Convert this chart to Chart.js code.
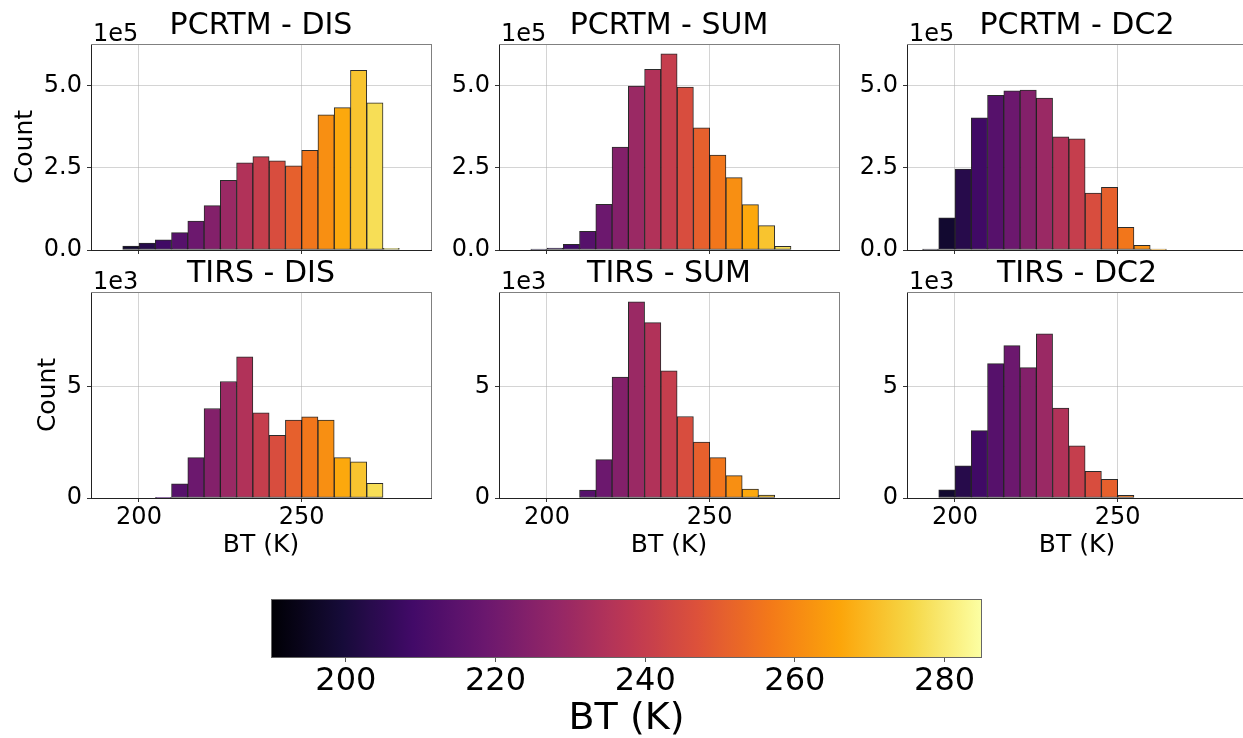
<!DOCTYPE html>
<html>
<head>
<meta charset="utf-8">
<script src="https://cdn.jsdelivr.net/npm/chart.js@4.4.1/dist/chart.umd.min.js"></script>
<style>
  html, body { margin: 0; padding: 0; background: #fff; }
  body { width: 1243px; height: 738px; position: relative; overflow: hidden; }
  canvas { position: absolute; }
</style>
</head>
<body>
<canvas id="p0"></canvas>
<canvas id="p1"></canvas>
<canvas id="p2"></canvas>
<canvas id="p3"></canvas>
<canvas id="p4"></canvas>
<canvas id="p5"></canvas>
<canvas id="cbar"></canvas>
<script>
// bin centres (K) and counts
var pcrtmDisBins = [197.5, 202.5, 207.5, 212.5, 217.5, 222.5, 227.5, 232.5, 237.5, 242.5, 247.5, 252.5, 257.5, 262.5, 267.5, 272.5, 277.5];
var pcrtmDis = [12000, 21000, 31000, 53000, 88000, 135000, 212000, 265000, 284000, 271000, 256000, 303000, 411000, 433000, 547000, 448000, 5000];

var pcrtmSumBins = [197.5, 202.5, 207.5, 212.5, 217.5, 222.5, 227.5, 232.5, 237.5, 242.5, 247.5, 252.5, 257.5, 262.5, 267.5, 272.5];
var pcrtmSum = [3000, 6000, 17000, 57000, 139000, 313000, 499000, 550000, 597000, 496000, 372000, 289000, 220000, 138000, 74000, 11000];

var pcrtmDc2Bins = [192.5, 197.5, 202.5, 207.5, 212.5, 217.5, 222.5, 227.5, 232.5, 237.5, 242.5, 247.5, 252.5, 257.5, 262.5];
var pcrtmDc2 = [3000, 98000, 246000, 402000, 471000, 484000, 487000, 462000, 344000, 338000, 173000, 191000, 69000, 14000, 3000];

var tirsDisBins = [207.5, 212.5, 217.5, 222.5, 227.5, 232.5, 237.5, 242.5, 247.5, 252.5, 257.5, 262.5, 267.5, 272.5];
var tirsDis = [30, 640, 1810, 4010, 5220, 6320, 3820, 2810, 3490, 3640, 3490, 1810, 1620, 660];

var tirsSumBins = [212.5, 217.5, 222.5, 227.5, 232.5, 237.5, 242.5, 247.5, 252.5, 257.5, 262.5, 267.5];
var tirsSum = [360, 1720, 5420, 8790, 7860, 5700, 3650, 2510, 1810, 1000, 400, 130];

var tirsDc2Bins = [197.5, 202.5, 207.5, 212.5, 217.5, 222.5, 227.5, 232.5, 237.5, 242.5, 247.5, 252.5];
var tirsDc2 = [370, 1440, 3020, 6020, 6830, 5840, 7350, 4030, 2340, 1200, 840, 120];

var titles = ['PCRTM - DIS', 'PCRTM - SUM', 'PCRTM - DC2', 'TIRS - DIS', 'TIRS - SUM', 'TIRS - DC2'];
var btTicks = [200, 250];
var countTicksTop = [0, 250000, 500000];
var countTicksBottom = [0, 5000];
var colorbarTicks = [200, 220, 240, 260, 280];
var btMin = 185.25, btMax = 289.75;
var cbMin = 190, cbMax = 285;
var barNormMin = 190, barNormMax = 280;

var infernoStops = ['#000004', '#160b39', '#420a68', '#6a176e', '#932667', '#bc3754',
                    '#dd513a', '#f37819', '#fca50a', '#f6d746', '#fcffa4'];

function hexRgb(h)
{
    return [parseInt(h.substr(1, 2), 16), parseInt(h.substr(3, 2), 16), parseInt(h.substr(5, 2), 16)];
}

function inferno(t)
{
    t = Math.max(0, Math.min(1, t));
    var p = t * 10;
    var i = Math.min(9, Math.floor(p));
    var f = p - i;
    var a = hexRgb(infernoStops[i]), b = hexRgb(infernoStops[i + 1]);
    var c = [0, 1, 2].map(function(k) { return Math.round(a[k] + (b[k] - a[k]) * f); });
    return 'rgb(' + c.join(',') + ')';
}

Chart.defaults.font.family = "'DejaVu Sans', sans-serif";
Chart.defaults.color = '#000';

// top + right spines, and the 1eN offset text
var framePlugin = {
    id: 'frame',
    afterDraw: function(chart) {
        var ctx = chart.ctx, a = chart.chartArea;
        ctx.save();
        ctx.strokeStyle = '#808080';
        ctx.lineWidth = 1;
        ctx.beginPath();
        ctx.moveTo(a.left, a.top + 0.5);
        ctx.lineTo(a.right + 1, a.top + 0.5);
        ctx.moveTo(a.right + 0.5, a.top);
        ctx.lineTo(a.right + 0.5, a.bottom);
        ctx.stroke();
        ctx.fillStyle = '#000';
        ctx.font = "24px 'DejaVu Sans'";
        ctx.textAlign = 'left';
        ctx.textBaseline = 'alphabetic';
        ctx.fillText(chart.options.plugins.frame.offsetText, a.left + 2, a.top - 3.5);
        ctx.restore();
    }
};

var colLeft = [0, 408, 816];
var rowTop = [0, 248];

function histogram(id, idx, bins, counts, yMax, yTicks, offsetText, fmt)
{
    var row = Math.floor(idx / 3), col = idx % 3;
    var bottomH = row ? 72 : 30;
    var cv = document.getElementById(id);
    cv.width = 433;
    cv.height = 44 + 206 + bottomH;
    cv.style.left = colLeft[col] + 'px';
    cv.style.top = rowTop[row] + 'px';

    var pts = bins.map(function(b, i) { return {x: b, y: counts[i]}; });
    var colors = bins.map(function(b) { return inferno((b - barNormMin) / (barNormMax - barNormMin)); });

    return new Chart(cv, {
        type: 'bar',
        data: {
            datasets: [{
                data: pts,
                backgroundColor: colors,
                borderColor: 'rgba(20,20,20,0.9)',
                borderWidth: 1,
                borderSkipped: false,
                barPercentage: 1,
                categoryPercentage: 1
            }]
        },
        options: {
            responsive: false,
            animation: false,
            devicePixelRatio: 1,
            events: [],
            layout: { padding: { left: 0, right: 2, top: 0, bottom: 0 } },
            plugins: {
                legend: { display: false },
                tooltip: { enabled: false },
                title: {
                    display: true,
                    text: titles[idx],
                    fullSize: false,
                    font: { size: 30, weight: 'normal' },
                    padding: { top: 8, bottom: 0 },
                    color: '#000'
                },
                frame: { offsetText: offsetText }
            },
            scales: {
                x: {
                    type: 'linear',
                    min: btMin,
                    max: btMax,
                    offset: false,
                    z: 1,
                    afterBuildTicks: function(s) { s.ticks = btTicks.map(function(v) { return {value: v}; }); },
                    afterFit: function(s) { s.height = bottomH; },
                    grid: { offset: false, color: 'rgba(176,176,176,0.55)', lineWidth: 1, drawTicks: true, tickLength: 4, tickColor: '#333' },
                    border: { display: true, color: '#222', width: 1 },
                    ticks: { display: row === 1, font: { size: 24 }, padding: 1, maxRotation: 0, color: '#000' },
                    title: { display: row === 1, text: 'BT (K)', font: { size: 25 }, padding: { top: 0, bottom: 10 }, color: '#000' }
                },
                y: {
                    min: 0,
                    max: yMax,
                    z: 1,
                    afterBuildTicks: function(s) { s.ticks = yTicks.map(function(v) { return {value: v}; }); },
                    afterFit: function(s) { s.width = 91; },
                    grid: { color: 'rgba(176,176,176,0.55)', lineWidth: 1, drawTicks: true, tickLength: 4, tickColor: '#333' },
                    border: { display: true, color: '#222', width: 1 },
                    ticks: { font: { size: 24 }, padding: 5, color: '#000', callback: fmt },
                    title: { display: col === 0, text: 'Count', font: { size: 25 }, padding: { top: row ? 33 : 10 }, color: '#000' }
                }
            }
        },
        plugins: [framePlugin]
    });
}

var yMaxTop = 1.05 * Math.max.apply(null, pcrtmDis.concat(pcrtmSum, pcrtmDc2));
var yMaxBottom = 1.05 * Math.max.apply(null, tirsDis.concat(tirsSum, tirsDc2));
var fmtTop = function(v) { return (v / 1e5).toFixed(1); };
var fmtBottom = function(v) { return String(v / 1e3); };

histogram('p0', 0, pcrtmDisBins, pcrtmDis, yMaxTop, countTicksTop, '1e5', fmtTop);
histogram('p1', 1, pcrtmSumBins, pcrtmSum, yMaxTop, countTicksTop, '1e5', fmtTop);
histogram('p2', 2, pcrtmDc2Bins, pcrtmDc2, yMaxTop, countTicksTop, '1e5', fmtTop);
histogram('p3', 3, tirsDisBins, tirsDis, yMaxBottom, countTicksBottom, '1e3', fmtBottom);
histogram('p4', 4, tirsSumBins, tirsSum, yMaxBottom, countTicksBottom, '1e3', fmtBottom);
histogram('p5', 5, tirsDc2Bins, tirsDc2, yMaxBottom, countTicksBottom, '1e3', fmtBottom);

// colour bar
var gradientPlugin = {
    id: 'gradientBar',
    beforeDatasetsDraw: function(chart) {
        var ctx = chart.ctx, a = chart.chartArea, xs = chart.scales.x;
        var g = ctx.createLinearGradient(xs.getPixelForValue(cbMin), 0, xs.getPixelForValue(cbMax), 0);
        for (var i = 0; i <= 50; i++) {
            g.addColorStop(i / 50, inferno(i / 50));
        }
        ctx.save();
        ctx.fillStyle = g;
        ctx.fillRect(a.left, a.top, a.right - a.left, a.bottom - a.top);
        ctx.strokeStyle = '#666';
        ctx.lineWidth = 1;
        ctx.strokeRect(a.left + 0.5, a.top + 0.5, a.right - a.left - 1, a.bottom - a.top);
        ctx.restore();
    }
};

var cb = document.getElementById('cbar');
cb.width = 850;
cb.height = 148;
cb.style.left = '200px';
cb.style.top = '590px';
new Chart(cb, {
    type: 'scatter',
    data: { datasets: [{ data: [] }] },
    options: {
        responsive: false,
        animation: false,
        devicePixelRatio: 1,
        events: [],
        layout: { padding: { left: 71, right: 68, top: 9, bottom: 0 } },
        plugins: { legend: { display: false }, tooltip: { enabled: false } },
        scales: {
            x: {
                type: 'linear',
                min: cbMin,
                max: cbMax,
                afterBuildTicks: function(s) { s.ticks = colorbarTicks.map(function(v) { return {value: v}; }); },
                afterFit: function(s) { s.height = 81; },
                grid: { display: true, drawOnChartArea: false, drawTicks: true, tickLength: 5, tickColor: '#555' },
                border: { display: false },
                ticks: { font: { size: 32 }, padding: 0, maxRotation: 0, color: '#000' },
                title: { display: true, text: 'BT (K)', font: { size: 38, lineHeight: 1 }, padding: { top: 0, bottom: 0 }, color: '#000' }
            },
            y: { display: false, min: 0, max: 1 }
        }
    },
    plugins: [gradientPlugin]
});
</script>
</body>
</html>
